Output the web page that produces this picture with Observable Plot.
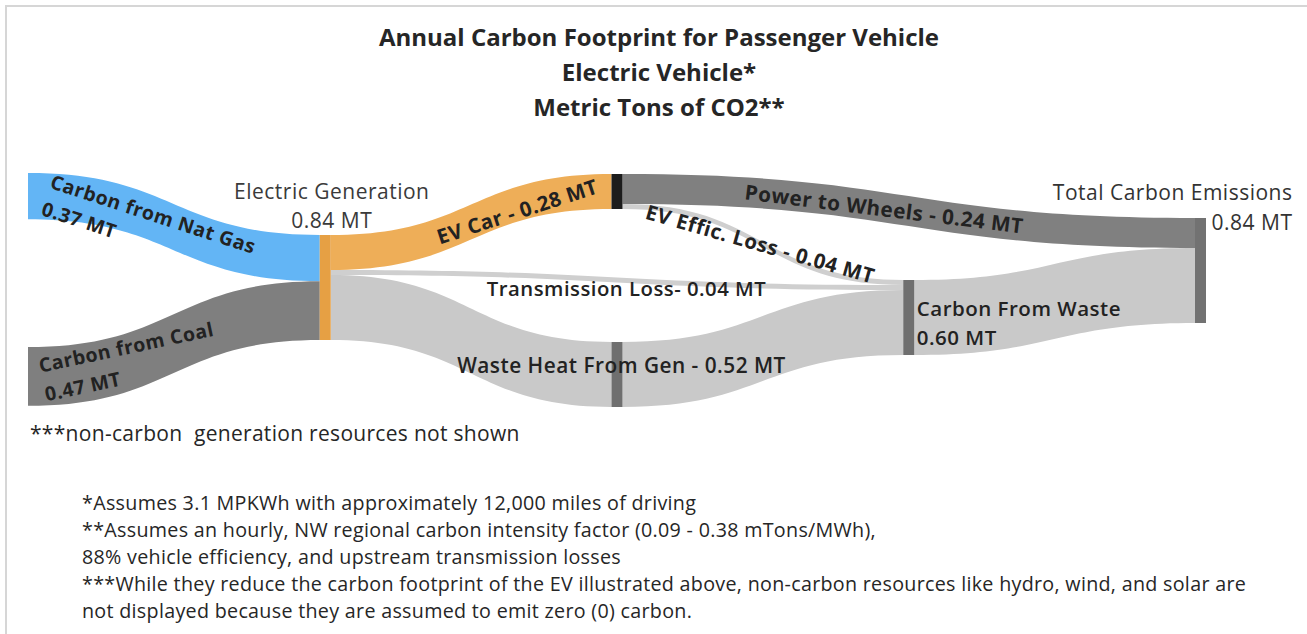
<!DOCTYPE html>
<html>
<head>
<meta charset="utf-8">
<script src="https://cdn.jsdelivr.net/npm/d3@7"></script>
<script src="https://cdn.jsdelivr.net/npm/@observablehq/plot@0.6"></script>
<style>
  body { margin: 0; background: #fff; }
  #wrap { position: relative; width: 1307px; height: 634px; overflow: hidden; font-family: "Open Sans", Lato, sans-serif; color: #262626; }
  #frame { position: absolute; left: 5px; top: 5px; width: 1320px; height: 640px; border-left: 2px solid #d6d6d6; border-top: 2px solid #d6d6d6; }
  #chart { position: absolute; left: 0; top: 0; }
  #title { position: absolute; left: 0; width: 1318px; top: 19px; text-align: center; font-weight: 700; font-size: 24px; line-height: 35px; color: #262626; }
  #note { position: absolute; left: 30px; top: 420px; font-size: 21px; letter-spacing: 0.3px; line-height: 26px; white-space: pre; color: #262626; }
  #foot { position: absolute; left: 82px; top: 489px; font-size: 19.7px; letter-spacing: 0.3px; line-height: 27px; white-space: pre; color: #262626; }
</style>
</head>
<body>
<div id="wrap">
  <div id="frame"></div>
  <div id="chart"></div>
  <div id="title"></div>
  <div id="note"></div>
  <div id="foot"></div>
</div>
<script>
// ---------- data ----------
const titleLines = ["Annual Carbon Footprint for Passenger Vehicle", "Electric Vehicle*", "Metric Tons of CO2**"];
const nodeNames = ["Carbon from Nat Gas", "Carbon from Coal", "Electric Generation", "EV Car", "Waste Heat From Gen", "Carbon From Waste", "Total Carbon Emissions"];
const linkSource = [0, 1, 2, 2, 2, 3, 3, 4, 5];
const linkTarget = [2, 2, 3, 5, 4, 6, 5, 5, 6];
const linkValue  = [0.37, 0.47, 0.28, 0.04, 0.52, 0.24, 0.04, 0.52, 0.60];
const linkNames  = ["Carbon from Nat Gas", "Carbon from Coal", "EV Car", "Transmission Loss", "Waste Heat From Gen", "Power to Wheels", "EV Effic. Loss", "Waste Heat From Gen", "Carbon From Waste"];
const unit = "MT";
const noteText = "***non-carbon  generation resources not shown";
const footLines = [
  "*Assumes 3.1 MPKWh with approximately 12,000 miles of driving",
  "**Assumes an hourly, NW regional carbon intensity factor (0.09 - 0.38 mTons/MWh),",
  "88% vehicle efficiency, and upstream transmission losses",
  "***While they reduce the carbon footprint of the EV illustrated above, non-carbon resources like hydro, wind, and solar are",
  "not displayed because they are assumed to emit zero (0) carbon."
];

// ---------- layout & style ----------
const nodeCol   = [0, 0, 1, 2, 2, 3, 4];
const nodeTop   = [0.184, 1.576, 0.68, 0.192, 1.536, 1.04, 0.544];
const nodeBar   = [false, false, true, true, true, true, true];
const nodeColor = ["#62b4f3", "#777777", "#e6a044", "#1c1c1c", "#6f6f6f", "#6f6f6f", "#727272"];
const linkColor = ["#63b5f5", "#7f7f7f", "#eeae58", "#cfcfcf", "#c9c9c9", "#808080", "#cfcfcf", "#c9c9c9", "#c9c9c9"];
const nodeW = 11 / 291.75;
const fmt = d3.format(".2f");
const FONT = "Open Sans";

document.getElementById("title").innerHTML = titleLines.map(s => `<div>${s}</div>`).join("");
document.getElementById("note").textContent = noteText;
document.getElementById("foot").textContent = footLines.join("\n");

// nodes
const nodes = nodeNames.map((name, i) => {
  const inV = d3.sum(linkValue.filter((v, j) => linkTarget[j] === i));
  const outV = d3.sum(linkValue.filter((v, j) => linkSource[j] === i));
  const value = Math.max(inV, outV);
  return {name, i, value, x1: nodeCol[i], x2: nodeCol[i] + (nodeBar[i] ? nodeW : 0),
          y1: nodeTop[i], y2: nodeTop[i] + value, color: nodeColor[i]};
});

// link offsets (sorted by opposite-end position, like a sankey)
const links = linkValue.map((v, j) => ({j, v, s: linkSource[j], t: linkTarget[j], name: linkNames[j], color: linkColor[j]}));
nodes.forEach(n => {
  let y = n.y1;
  links.filter(l => l.s === n.i).sort((a, b) => nodes[a.t].y1 - nodes[b.t].y1).forEach(l => { l.sy = y; y += l.v; });
  y = n.y1;
  links.filter(l => l.t === n.i).sort((a, b) => nodes[a.s].y1 - nodes[b.s].y1).forEach(l => { l.ty = y; y += l.v; });
});
links.forEach(l => { l.sx = nodes[l.s].x2; l.tx = nodes[l.t].x1; });

const ribbons = links.flatMap(l => [
  {id: l.j, x: l.sx, y1: l.sy, y2: l.sy + l.v, color: l.color},
  {id: l.j, x: l.tx, y1: l.ty, y2: l.ty + l.v, color: l.color}
]);

// point on link centre line (bump-x cubic)
function linkPoint(l, t) {
  const xm = (l.sx + l.tx) / 2, cs = l.sy + l.v / 2, ct = l.ty + l.v / 2;
  const a = (1 - t) ** 3, b = 3 * (1 - t) ** 2 * t, c = 3 * (1 - t) * t * t, d = t ** 3;
  return {x: a * l.sx + (b + c) * xm + d * l.tx, y: (a + b) * cs + (c + d) * ct};
}

const linkLabelSpecs = [
  {link: 0, t: 0,    dx: 19, dy: -4,   rotate: 18,  anchor: "start",  mode: "lines", size: 19.5, weight: 700, lh: 1.45},
  {link: 1, t: 0,    dx: 13, dy: 1,    rotate: -12, anchor: "start",  mode: "lines", size: 19.5, weight: 700, lh: 1.5},
  {link: 2, t: 0.65, dx: 13, dy: 2,    rotate: -18, anchor: "middle", mode: " - ",   size: 20.5, weight: 700},
  {link: 5, t: 0.5,  dx: -25, dy: -3,  rotate: 7,   anchor: "middle", mode: " - ",   size: 20.7, weight: 700},
  {link: 6, t: 0.5,  dx: -3, dy: -1.5, rotate: 16,  anchor: "middle", mode: " - ",   size: 20.5, weight: 700},
  {link: 3, t: 0.5,  dx: 9,  dy: 8,    rotate: 0,   anchor: "middle", mode: "- ",    size: 20.3, weight: 600}
];
const nodeLabelSpecs = [
  {node: 2, at: "topcenter", dx: 6,  dy: -31,   anchor: "middle", mode: "lines", size: 21, weight: 400, lh: 1.35, fill: "#3a3a3a"},
  {node: 4, at: "center",    dx: 4,  dy: -10.5, anchor: "middle", mode: " - ",   size: 20.8, weight: 600},
  {node: 5, at: "rightmid",  dx: 2,  dy: 3,     anchor: "start",  mode: "lines", size: 20.5, weight: 600, lh: 1.45},
  {node: 6, at: "righttop",  dx: 86, dy: -13,   anchor: "end",    mode: "lines", size: 21, weight: 400, lh: 1.42, fill: "#333"}
];
const label = (name, v, mode) => mode === "lines" ? `${name}\n${fmt(v)} ${unit}` : `${name}${mode}${fmt(v)} ${unit}`;

const textMarks = [];
linkLabelSpecs.forEach(s => {
  const l = links[s.link];
  const p = linkPoint(l, s.t);
  textMarks.push(Plot.text([{...p, text: label(l.name, l.v, s.mode)}], {
    x: "x", y: "y", text: "text", dx: s.dx, dy: s.dy, rotate: s.rotate, textAnchor: s.anchor,
    lineAnchor: "middle", lineHeight: s.lh || 1.2, fontSize: s.size, fontWeight: s.weight, fill: s.fill || "#222",
    fontFamily: FONT
  }));
});
nodeLabelSpecs.forEach(s => {
  const n = nodes[s.node];
  const p = s.at === "topcenter" ? {x: (n.x1 + n.x2) / 2, y: n.y1}
          : s.at === "center" ? {x: (n.x1 + n.x2) / 2, y: (n.y1 + n.y2) / 2}
          : s.at === "rightmid" ? {x: n.x2, y: (n.y1 + n.y2) / 2}
          : {x: n.x2, y: n.y1};
  textMarks.push(Plot.text([{...p, text: label(n.name, n.value, s.mode)}], {
    x: "x", y: "y", text: "text", dx: s.dx, dy: s.dy, textAnchor: s.anchor,
    lineAnchor: "middle", lineHeight: s.lh || 1.2, fontSize: s.size, fontWeight: s.weight, fill: s.fill || "#222",
    fontFamily: FONT
  }));
});

const chart = Plot.plot({
  width: 1307, height: 634,
  marginTop: 150, marginBottom: 204, marginLeft: 28, marginRight: 112,
  x: {domain: [0, 4], axis: null},
  y: {domain: [0, 2.24], reverse: true, axis: null},
  color: {type: "identity"},
  style: {background: "transparent", overflow: "visible", letterSpacing: "0.5px"},
  marks: [
    Plot.areaY(ribbons, {x: "x", y1: "y1", y2: "y2", z: "id", fill: "color", curve: "bump-x"}),
    Plot.rect(nodes.filter(n => nodeBar[n.i]), {x1: "x1", x2: "x2", y1: "y1", y2: "y2", fill: "color"}),
    ...textMarks
  ]
});
document.getElementById("chart").appendChild(chart);
</script>
</body>
</html>
